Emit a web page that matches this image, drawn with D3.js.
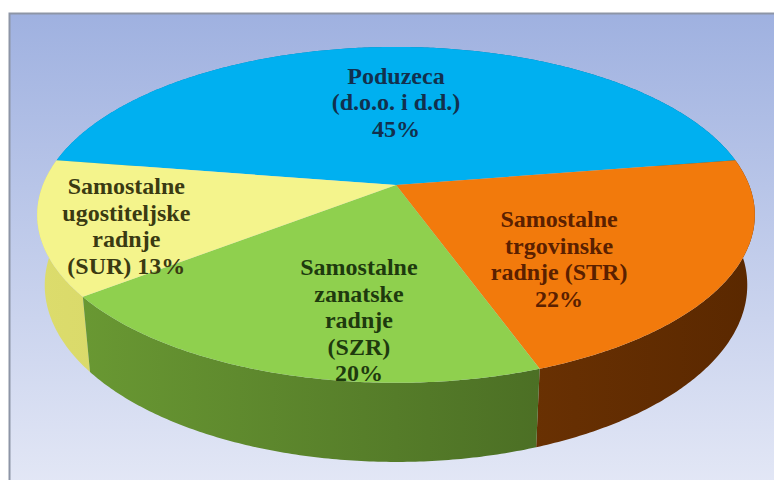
<!DOCTYPE html>
<meta charset="utf-8">
<script src="https://d3js.org/d3.v7.min.js"></script>
<style>
  body { margin: 0; background: #fff; }
</style>
<div id="chart"></div>
<script>

// data
var categories = ["Poduzeca|(d.o.o. i d.d.)", "Samostalne|trgovinske|radnje (STR)", "Samostalne|zanatske|radnje|(SZR)", "Samostalne|ugostiteljske|radnje|(SUR)"];
var values = [45, 22, 20, 13];
var pctJoin = ["\n", "\n", "\n", " "];

// colours: top face, side (left -> right), label text
var topColors = ["#00b0f0", "#f27a0c", "#8fd04e", "#f4f48c"];
var sideColors = [["#0088c0", "#006890"], ["#8a4408", "#5a2800"], ["#6c9c34", "#3e5c1e"], ["#dcdc6c", "#c2c456"]];
var textColors = ["#12304e", "#5a2000", "#1e3a0e", "#3a3a12"];

// label placement (radius fraction, angle shift in degrees)
var labelR = [0.56, 0.6, 0.73, 0.77];
var labelShift = [0, 14, -9, -4];

var width = 774, height = 480;

var svg = d3.select("#chart").append("svg")
    .attr("width", width)
    .attr("height", height);

var defs = svg.append("defs");

var bg = defs.append("linearGradient").attr("id", "bg")
    .attr("x1", 0).attr("y1", 0).attr("x2", 0).attr("y2", 1);
bg.append("stop").attr("offset", "0%").attr("stop-color", "#9fb1e0");
bg.append("stop").attr("offset", "100%").attr("stop-color", "#e4e8f6");

svg.append("rect")
    .attr("x", 9.5).attr("y", 13.5)
    .attr("width", 780).attr("height", 480)
    .attr("fill", "url(#bg)")
    .attr("stroke", "#8d95a6")
    .attr("stroke-width", 2);

// perspective projection of the disc
var cx = 396, cy = 185, D = 4.99, f = 1762;
var sa = 0.4605, ca = Math.sqrt(1 - sa * sa);
var depth = 0.226;

function project(psi, r, h) {
  var u = r * Math.sin(psi), v = -r * Math.cos(psi);
  var yc = -v * sa + h * ca, zc = D - v * ca - h * sa;
  return [cx + f * u / zc, cy - f * yc / zc];
}

function arcPoints(a0, a1, h) {
  var n = Math.max(2, Math.ceil(Math.abs(a1 - a0) / 0.01));
  return d3.range(n + 1).map(function(i) {
    return project(a0 + (a1 - a0) * i / n, 1, h);
  });
}

var total = d3.sum(values);
var pie = d3.pie().sort(null)
    .startAngle(-Math.PI * values[0] / total)
    .endAngle(2 * Math.PI - Math.PI * values[0] / total);
var arcs = pie(values);

var line = d3.line().curve(d3.curveLinearClosed);

// side gradients
arcs.forEach(function(d, i) {
  var g = defs.append("linearGradient").attr("id", "side" + i)
      .attr("gradientUnits", "userSpaceOnUse")
      .attr("x1", 37).attr("y1", 0).attr("x2", 755).attr("y2", 0);
  g.append("stop").attr("offset", "0%").attr("stop-color", sideColors[i][0]);
  g.append("stop").attr("offset", "100%").attr("stop-color", sideColors[i][1]);
});

// walls, back ones first
var order = d3.range(arcs.length).sort(function(a, b) {
  var ma = (arcs[a].startAngle + arcs[a].endAngle) / 2;
  var mb = (arcs[b].startAngle + arcs[b].endAngle) / 2;
  return (-Math.cos(ma)) - (-Math.cos(mb));
});

svg.append("g").selectAll("path")
  .data(order)
  .join("path")
    .attr("d", function(i) {
      var d = arcs[i];
      var pts = arcPoints(d.startAngle, d.endAngle, 0)
          .concat(arcPoints(d.endAngle, d.startAngle, -depth));
      return line(pts);
    })
    .attr("fill", function(i) { return "url(#side" + i + ")"; });

// top faces
svg.append("g").selectAll("path")
  .data(arcs)
  .join("path")
    .attr("d", function(d) {
      var pts = [project(0, 0, 0)].concat(arcPoints(d.startAngle, d.endAngle, 0));
      return line(pts);
    })
    .attr("fill", function(d, i) { return topColors[i]; });

// labels
var lineH = 26.5;
var labels = svg.append("g")
    .attr("font-family", "'Liberation Serif', 'DejaVu Serif', serif")
    .attr("font-weight", "bold")
    .attr("font-size", "24px")
    .attr("text-anchor", "middle");

arcs.forEach(function(d, i) {
  var mid = (d.startAngle + d.endAngle) / 2 + labelShift[i] * Math.PI / 180;
  var p = project(mid, labelR[i], 0);
  var text = categories[i].split("|").join("\n") + pctJoin[i] + Math.round(d.value / total * 100) + "%";
  var rows = text.split("\n");
  var t = labels.append("text").attr("fill", textColors[i]);
  rows.forEach(function(r, k) {
    t.append("tspan")
      .attr("x", p[0])
      .attr("y", p[1] + (k - (rows.length - 1) / 2) * lineH)
      .attr("dy", "0.33em")
      .text(r);
  });
});

</script>
